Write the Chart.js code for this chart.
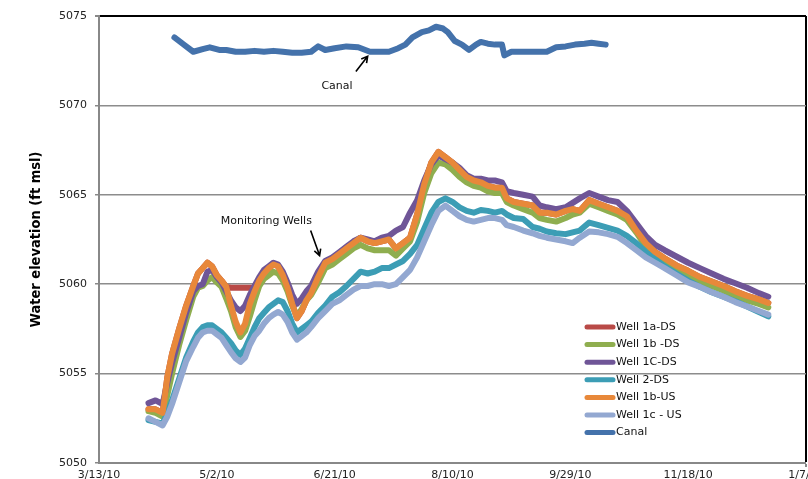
<!DOCTYPE html>
<html>
<head>
<meta charset="utf-8">
<script src="https://cdn.jsdelivr.net/npm/chart.js@4.4.0/dist/chart.umd.min.js"></script>
<style>
    html, body { margin: 0; padding: 0; background: #fff; overflow: hidden; }
    #wrap { width: 850px; height: 479px; position: relative; }
</style>
</head>
<body>
<div id="wrap"><canvas id="chart"></canvas></div>
<script>
// x축: 2010-03-13 기준 경과 일수, 50일 간격 눈금
const xTickLabels = ['3/13/10', '5/2/10', '6/21/10', '8/10/10', '9/29/10', '11/18/10', '1/7/11'];

// 관측정 측정일 (경과 일수)
const wellDays = [
    21, 24, 27, 29, 31, 34, 37, 40, 42, 44,
    46, 48, 50, 52, 54, 56, 58, 60, 62, 64,
    66, 68, 70, 72, 74, 76, 78, 80, 82, 84,
    86, 88, 90, 93, 96, 99, 102, 105, 108, 111,
    114, 117, 120, 123, 126, 129, 132, 135, 138, 141,
    144, 147, 150, 153, 156, 159, 162, 165, 168, 171,
    173, 176, 180, 184, 187, 190, 194, 198, 201, 204,
    208, 212, 216, 220, 224, 228, 232, 236, 240, 245,
    250, 255, 260, 265, 270, 275, 280, 284
];

const well1aDS = [
    5053.0, 5053.0, 5052.8, 5054.8, 5056.1, 5057.5, 5058.8, 5059.9, 5060.6, 5060.9,
    5061.2, 5061.0, 5060.5, 5060.2, 5059.85, 5059.8, 5059.8, 5059.8, 5059.8, 5059.8,
    5059.8, 5060.2, 5060.6, 5060.9, 5061.1, 5061.0, 5060.5, 5059.8, 5058.9, 5058.1,
    5058.5, 5059.1, 5059.5, 5060.4, 5061.2, 5061.4, 5061.7, 5062.0, 5062.3, 5062.6,
    5062.4, 5062.3, 5062.4, 5062.5, 5062.0, 5062.3, 5062.6, 5063.9, 5065.6, 5066.8,
    5067.4, 5067.1, 5066.8, 5066.4, 5066.0, 5065.8, 5065.7, 5065.5, 5065.4, 5065.4,
    5064.8, 5064.6, 5064.5, 5064.4, 5064.0, 5064.0, 5063.9, 5064.1, 5064.2, 5064.1,
    5064.7, 5064.5, 5064.3, 5064.1, 5063.8, 5063.0, 5062.3, 5061.8, 5061.45, 5061.05,
    5060.75, 5060.4, 5060.15, 5059.9, 5059.6, 5059.35, 5059.15, 5058.95
];

const well1bDS = [
    5052.9, 5052.8, 5052.6, 5053.8, 5055.0, 5056.6, 5058.0, 5059.3, 5059.8, 5059.9,
    5060.2, 5060.4, 5060.1, 5059.85, 5059.2, 5058.5, 5057.6, 5057.05, 5057.4, 5058.2,
    5059.1, 5059.9, 5060.3, 5060.5, 5060.7, 5060.6, 5060.2, 5059.6, 5058.8, 5058.2,
    5058.6, 5059.1, 5059.4, 5060.1, 5060.9, 5061.1, 5061.4, 5061.7, 5062.0, 5062.2,
    5062.0, 5061.9, 5061.9, 5061.9, 5061.6, 5062.0, 5062.4, 5063.5, 5065.1, 5066.2,
    5066.8, 5066.7, 5066.4, 5066.0, 5065.7, 5065.5, 5065.4, 5065.2, 5065.1, 5065.1,
    5064.6, 5064.4, 5064.2, 5064.0, 5063.7, 5063.6, 5063.5, 5063.7, 5063.9, 5064.0,
    5064.5, 5064.3, 5064.1, 5063.9, 5063.6, 5062.9, 5062.1, 5061.55, 5061.2, 5060.8,
    5060.5, 5060.15, 5059.9, 5059.65, 5059.35, 5059.1, 5058.9, 5058.7
];

const well1CDS = [
    5053.35, 5053.5, 5053.3, 5054.5, 5055.6, 5057.0, 5058.4, 5059.6, 5059.9, 5060.0,
    5060.7, 5060.8, 5060.4, 5060.1, 5059.6, 5059.1, 5058.7, 5058.5, 5058.8, 5059.4,
    5059.9, 5060.4, 5060.8, 5061.0, 5061.2, 5061.1, 5060.7, 5060.1, 5059.4, 5058.9,
    5059.2, 5059.6, 5059.9, 5060.7, 5061.3, 5061.5, 5061.8, 5062.1, 5062.4, 5062.6,
    5062.5, 5062.4, 5062.6, 5062.7, 5063.0, 5063.2, 5064.0, 5064.7, 5065.8, 5066.7,
    5067.2, 5067.0, 5066.8, 5066.5, 5066.1, 5065.9, 5065.9, 5065.8, 5065.8, 5065.7,
    5065.2, 5065.1, 5065.0, 5064.9, 5064.4, 5064.3, 5064.2, 5064.3, 5064.55, 5064.8,
    5065.1, 5064.9, 5064.7, 5064.6, 5064.1, 5063.4, 5062.7, 5062.2, 5061.9, 5061.55,
    5061.2, 5060.9, 5060.6, 5060.3, 5060.05, 5059.8, 5059.5, 5059.3
];

const well2DS = [
    5052.4, 5052.3, 5052.2, 5052.8, 5053.5, 5054.7, 5055.9, 5056.8, 5057.3, 5057.6,
    5057.7, 5057.7, 5057.5, 5057.3, 5057.0, 5056.7, 5056.3, 5056.05, 5056.4, 5057.0,
    5057.6, 5058.1, 5058.4, 5058.7, 5058.9, 5059.1, 5059.0, 5058.5, 5057.8, 5057.3,
    5057.5, 5057.7, 5057.9, 5058.4, 5058.8, 5059.3, 5059.55, 5059.9, 5060.3, 5060.7,
    5060.6, 5060.7, 5060.9, 5060.9, 5061.1, 5061.3, 5061.7, 5062.2, 5063.1, 5064.0,
    5064.6, 5064.8, 5064.6, 5064.3, 5064.1, 5064.0, 5064.15, 5064.1, 5064.0, 5064.1,
    5063.9, 5063.7, 5063.65, 5063.2, 5063.1, 5062.95, 5062.85, 5062.8, 5062.9, 5063.0,
    5063.45, 5063.3, 5063.15, 5063.0, 5062.7, 5062.3, 5061.8, 5061.4, 5061.0, 5060.6,
    5060.2, 5059.85, 5059.55, 5059.3, 5059.05, 5058.75, 5058.45, 5058.2
];

const well1bUS = [
    5053.0, 5053.0, 5052.8, 5054.8, 5056.1, 5057.5, 5058.8, 5059.9, 5060.6, 5060.9,
    5061.2, 5061.0, 5060.5, 5060.2, 5059.85, 5058.8, 5057.9, 5057.3, 5057.8, 5058.9,
    5059.6, 5060.2, 5060.6, 5060.9, 5061.1, 5061.0, 5060.5, 5059.8, 5058.9, 5058.1,
    5058.5, 5059.1, 5059.5, 5060.4, 5061.2, 5061.4, 5061.7, 5062.0, 5062.3, 5062.6,
    5062.4, 5062.3, 5062.4, 5062.5, 5062.0, 5062.3, 5062.6, 5063.9, 5065.6, 5066.8,
    5067.4, 5067.1, 5066.8, 5066.4, 5066.0, 5065.8, 5065.7, 5065.5, 5065.4, 5065.4,
    5064.8, 5064.6, 5064.5, 5064.4, 5064.0, 5064.0, 5063.9, 5064.1, 5064.2, 5064.1,
    5064.7, 5064.5, 5064.3, 5064.1, 5063.8, 5063.0, 5062.3, 5061.8, 5061.45, 5061.05,
    5060.75, 5060.4, 5060.15, 5059.9, 5059.6, 5059.35, 5059.15, 5058.95
];

const well1cUS = [
    5052.5, 5052.3, 5052.1, 5052.6, 5053.3, 5054.5, 5055.7, 5056.5, 5057.0, 5057.3,
    5057.4, 5057.4, 5057.2, 5057.0, 5056.6, 5056.2, 5055.85, 5055.65, 5055.9, 5056.6,
    5057.1, 5057.4, 5057.8, 5058.1, 5058.3, 5058.45, 5058.3, 5057.9, 5057.3, 5056.9,
    5057.1, 5057.3, 5057.6, 5058.1, 5058.5, 5058.9, 5059.1, 5059.4, 5059.7, 5059.9,
    5059.9, 5060.0, 5060.0, 5059.9, 5060.0, 5060.4, 5060.8, 5061.5, 5062.4, 5063.3,
    5064.1, 5064.4, 5064.1, 5063.8, 5063.6, 5063.5, 5063.6, 5063.7, 5063.7, 5063.6,
    5063.3, 5063.2, 5063.0, 5062.85, 5062.7, 5062.6, 5062.5, 5062.4, 5062.3, 5062.6,
    5062.95, 5062.9, 5062.8, 5062.65, 5062.3, 5061.9, 5061.5, 5061.2, 5060.9, 5060.5,
    5060.1, 5059.85, 5059.55, 5059.3, 5059.0, 5058.75, 5058.5, 5058.3
];

// 수로(Canal) 측정일과 수위
const canalDays = [
    32, 36, 40, 44, 47, 51, 54, 58, 62, 66,
    70, 74, 78, 82, 86, 90, 93, 96, 100, 105,
    110, 115, 119, 123, 127, 130, 133, 137, 140, 143,
    146, 148, 151, 154, 157, 160, 162, 165, 168, 171,
    172, 175, 180, 185, 190, 194, 198, 202, 206, 209,
    212, 215
];

const canal = [
    5073.8, 5073.4, 5073.0, 5073.15, 5073.25, 5073.1, 5073.1, 5073.0, 5073.0, 5073.05,
    5073.0, 5073.05, 5073.0, 5072.95, 5072.95, 5073.0, 5073.3, 5073.1, 5073.2, 5073.3,
    5073.25, 5073.0, 5073.0, 5073.0, 5073.2, 5073.4, 5073.8, 5074.1, 5074.2, 5074.4,
    5074.3, 5074.1, 5073.6, 5073.4, 5073.1, 5073.4, 5073.55, 5073.45, 5073.4, 5073.4,
    5072.8, 5073.0, 5073.0, 5073.0, 5073.0, 5073.25, 5073.3, 5073.4, 5073.45, 5073.5,
    5073.45, 5073.4
];

// 그림 속 설명 글 (경과 일수, 수위 기준)
const notes = [
    { text: 'Canal', x: 101, y: 5071.05, from: [109, 5071.9], to: [114, 5072.75] },
    { text: 'Monitoring Wells', x: 71, y: 5063.5, from: [89.8, 5063.0], to: [93.6, 5061.6] }
];

const FONT = '"DejaVu Sans", Verdana, sans-serif';

function toPoints(days, values) {
    return days.map((d, i) => ({ x: d, y: values[i] }));
}

function series(label, days, values, color, order) {
    return {
        label: label,
        data: toPoints(days, values),
        borderColor: color,
        backgroundColor: color,
        borderWidth: 6,
        borderCapStyle: 'round',
        borderJoinStyle: 'round',
        pointRadius: 0,
        tension: 0,
        fill: false,
        order: order
    };
}

// 차트 안쪽 범례
const insideLegend = {
    id: 'insideLegend',
    afterDraw(chart) {
        const ctx = chart.ctx;
        ctx.save();
        ctx.font = '11px ' + FONT;
        ctx.textBaseline = 'middle';
        chart.data.datasets.forEach((ds, i) => {
            const y = 327 + i * 17.6;
            ctx.strokeStyle = ds.borderColor;
            ctx.lineWidth = 5;
            ctx.lineCap = 'round';
            ctx.beginPath();
            ctx.moveTo(587, y);
            ctx.lineTo(613, y);
            ctx.stroke();
            ctx.fillStyle = '#111';
            ctx.fillText(ds.label, 616, y);
        });
        ctx.restore();
    }
};

// 설명 글과 화살표
const notePlugin = {
    id: 'notes',
    afterDatasetsDraw(chart) {
        const { ctx, scales } = chart;
        ctx.save();
        ctx.font = '11px ' + FONT;
        ctx.fillStyle = '#111';
        ctx.textAlign = 'center';
        ctx.textBaseline = 'middle';
        ctx.strokeStyle = '#000';
        ctx.lineWidth = 1.6;
        notes.forEach(n => {
            ctx.fillText(n.text, scales.x.getPixelForValue(n.x), scales.y.getPixelForValue(n.y));
            const x1 = scales.x.getPixelForValue(n.from[0]);
            const y1 = scales.y.getPixelForValue(n.from[1]);
            const x2 = scales.x.getPixelForValue(n.to[0]);
            const y2 = scales.y.getPixelForValue(n.to[1]);
            const a = Math.atan2(y2 - y1, x2 - x1);
            ctx.beginPath();
            ctx.moveTo(x1, y1);
            ctx.lineTo(x2, y2);
            ctx.moveTo(x2 - 7 * Math.cos(a - 0.5), y2 - 7 * Math.sin(a - 0.5));
            ctx.lineTo(x2, y2);
            ctx.lineTo(x2 - 7 * Math.cos(a + 0.5), y2 - 7 * Math.sin(a + 0.5));
            ctx.stroke();
        });
        ctx.restore();
    }
};

const chart = new Chart(document.getElementById('chart'), {
    type: 'line',
    data: {
        datasets: [
            series('Well 1a-DS', wellDays, well1aDS, '#b94a47', 6),
            series('Well 1b -DS', wellDays, well1bDS, '#8fae4f', 5),
            series('Well 1C-DS', wellDays, well1CDS, '#6f5597', 4),
            series('Well 2-DS', wellDays, well2DS, '#3c9db5', 3),
            series('Well 1b-US', wellDays, well1bUS, '#e8883a', 2),
            series('Well 1c - US', wellDays, well1cUS, '#93a8d1', 1),
            series('Canal', canalDays, canal, '#4472ab', 0)
        ]
    },
    options: {
        responsive: true,
        maintainAspectRatio: false,
        animation: false,
        devicePixelRatio: 1,
        layout: { padding: { top: 16, right: 44, bottom: 0, left: 0 } },
        plugins: {
            legend: { display: false },
            tooltip: { enabled: false }
        },
        scales: {
            x: {
                type: 'linear',
                min: 0,
                max: 300,
                afterFit: scale => { scale.height = 16; },
                ticks: {
                    stepSize: 50,
                    autoSkip: false,
                    maxRotation: 0,
                    padding: 2,
                    color: '#222',
                    font: { family: FONT, size: 11 },
                    callback: v => xTickLabels[Math.round(v / 50)]
                },
                grid: {
                    color: c => (c.tick && c.tick.value === 300) ? '#000' : 'rgba(0,0,0,0)',
                    lineWidth: c => (c.tick && c.tick.value === 300) ? 2 : 0,
                    tickColor: '#888',
                    tickLength: 4
                },
                border: { color: '#888', width: 2 }
            },
            y: {
                min: 5050,
                max: 5075,
                afterFit: scale => { scale.width = 99; },
                ticks: {
                    stepSize: 5,
                    padding: 8,
                    color: '#222',
                    font: { family: FONT, size: 11 },
                    callback: v => String(v)
                },
                grid: {
                    color: c => (c.tick && c.tick.value === 5075) ? '#000' : '#8c8c8c',
                    lineWidth: c => (c.tick && c.tick.value === 5075) ? 2 : 1.5,
                    tickColor: '#888',
                    tickLength: 4
                },
                border: { color: '#888', width: 2 },
                title: {
                    display: true,
                    text: 'Water elevation (ft msl)',
                    color: '#000',
                    font: { family: '"DejaVu Sans Condensed", sans-serif', size: 14.5, weight: 'bold' },
                    padding: { top: 28, bottom: 0 }
                }
            }
        }
    },
    plugins: [insideLegend, notePlugin]
});
</script>
</body>
</html>
